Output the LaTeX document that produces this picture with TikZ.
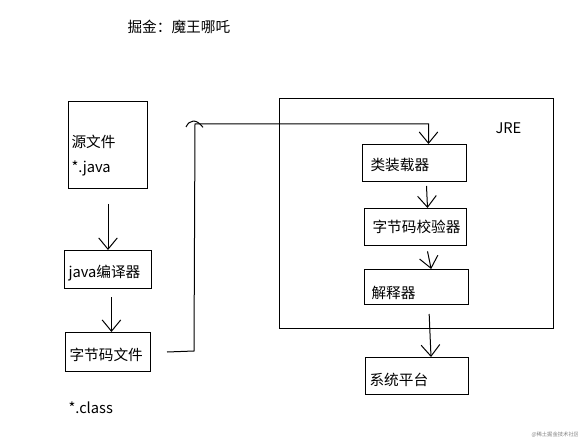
\documentclass[tikz,border=0pt]{standalone}
\usepackage{fontspec}
\setmainfont{Noto Sans CJK SC}
\usetikzlibrary{arrows.meta}
\begin{document}
\begin{tikzpicture}[x=0.75pt,y=-0.75pt,line width=0.75pt,
  box/.style={draw,rectangle,inner sep=0pt,anchor=north west},
  lbl/.style={anchor=west,inner sep=0pt,font=\fontsize{11}{13}\selectfont},
  arr/.style={-{Straight Barb[length=8.5pt,width=14pt,line width=0.75pt]}}]
\useasboundingbox (0,0) rectangle (578,445);
\fill[white] (0,0) rectangle (578,445);
% boxes
\node[box,minimum width=59.25pt,minimum height=65.25pt] (src) at (68,101) {};
\node[box,minimum width=65.25pt,minimum height=28.5pt] (jc) at (64,250) {};
\node[box,minimum width=63.75pt,minimum height=29.25pt] (bc) at (65,332) {};
\node[box,minimum width=205.5pt,minimum height=172.5pt] (jre) at (279,98) {};
\node[box,minimum width=78pt,minimum height=27.75pt] (cl) at (362,144) {};
\node[box,minimum width=76.5pt,minimum height=27.75pt] (bv) at (364,208) {};
\node[box,minimum width=78pt,minimum height=26.25pt] (it) at (364,269) {};
\node[box,minimum width=77.25pt,minimum height=27.75pt] (sp) at (365,357) {};
% labels
\node[lbl] (t0) at (127,27) {掘金：魔王哪吒};
\node[lbl] (t1) at (71,142) {源文件};
\node[lbl] (t2) at (71,168) {*.java};
\node[lbl] (t3) at (68,273) {java编译器};
\node[lbl] (t4) at (69,355) {字节码文件};
\node[lbl] (t5) at (68,408) {*.class};
\node[lbl] (t6) at (495,128) {JRE};
\node[lbl] (t7) at (370,165) {类装载器};
\node[lbl] (t8) at (372,227) {字节码校验器};
\node[lbl] (t9) at (371,293) {解释器};
\node[lbl] (t10) at (369,380) {系统平台};
\node[anchor=west,inner sep=0pt,font=\fontsize{4}{5}\selectfont,text=gray] (wm) at (531,435) {@稀土掘金技术社区};
% connectors
\draw[arr] ([yshift=-11.25pt]src.south) -- (src.south |- jc.north);
\draw[arr] ([xshift=2.6pt,yshift=-6pt]jc.south) -- ([xshift=2.6pt]bc.north);
\coordinate (c1) at (194,351);
\coordinate (c2) at (195,124);
\coordinate (c3) at ([xshift=10.5pt]cl.north);
\draw[arr] ([xshift=12pt]bc.east) -- (c1) -- (c2) -- (c2 -| c3) -- (c3);
\draw ([xshift=-6.75pt,yshift=-2.25pt]c2) .. controls ([xshift=-4pt,yshift=3.5pt]c2) and ([xshift=1pt,yshift=4pt]c2) .. ([xshift=6pt,yshift=-2.5pt]c2);
\draw[arr] ([xshift=9pt,yshift=-3pt]cl.south) -- ([xshift=9pt]bv.north);
\draw[arr] ([xshift=9pt,yshift=-4pt]bv.south) -- ([xshift=11pt]it.north);
\draw[arr] ([xshift=9.5pt,yshift=-6.75pt]it.south) -- ([xshift=10.5pt]sp.north);
\end{tikzpicture}
\end{document}
